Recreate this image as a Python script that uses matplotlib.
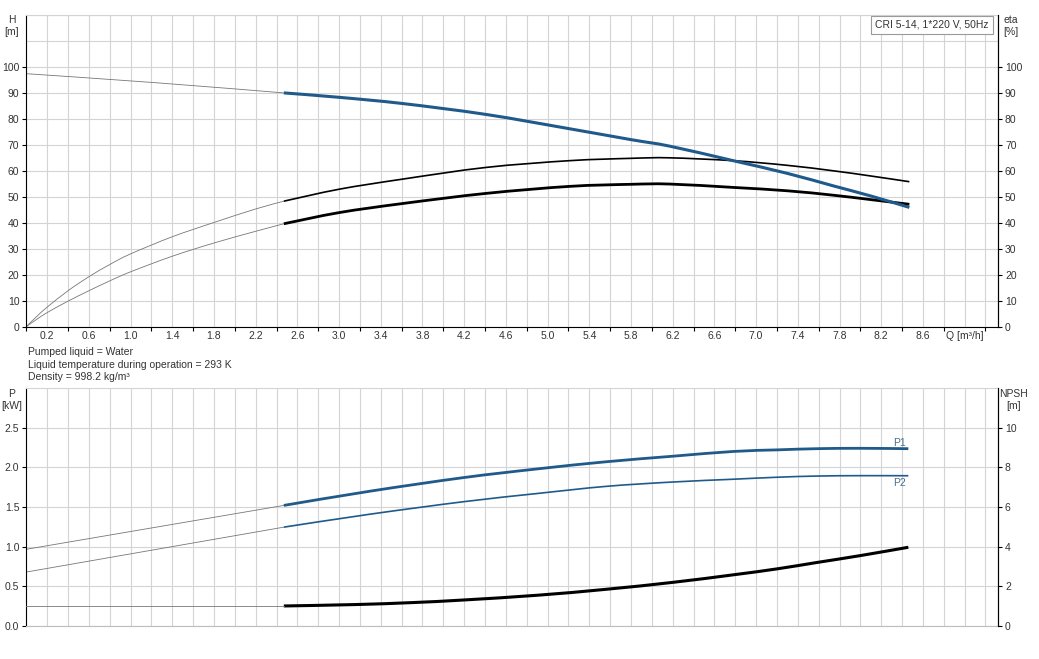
import numpy as np
import matplotlib
matplotlib.use("Agg")
import matplotlib.pyplot as plt
from matplotlib.path import Path
from matplotlib.patches import PathPatch

plt.rcParams['font.family'] = ['Liberation Sans', 'DejaVu Sans']

# ---- data ----
# Head H [m]
h_q_ext = [0.0, 1.25, 2.47]
h_ext = [97.4, 93.9, 90.0]
h_q = [2.47, 3.0, 3.61, 4.41, 5.21, 5.8, 6.17, 6.78, 7.3, 7.74, 8.1, 8.47]
h_val = [90.0, 88.3, 85.9, 81.7, 76.2, 72.0, 69.5, 63.9, 59.0, 54.2, 50.3, 45.9]

# Efficiency (upper, thin) [%]
e1_q_ext = [0.0, 0.1, 0.2, 0.4, 0.6, 0.8, 1.0, 1.4, 1.8, 2.2, 2.47]
e1_ext = [0.0, 3.9, 7.5, 13.8, 19.2, 23.9, 28.0, 34.6, 40.1, 45.3, 48.3]
e1_q = [2.47, 3.0, 3.61, 4.41, 5.21, 5.8, 6.17, 6.78, 7.3, 7.74, 8.1, 8.47]
e1_val = [48.3, 52.9, 56.8, 61.3, 63.9, 64.8, 65.0, 63.9, 62.1, 60.0, 58.0, 55.8]

# Efficiency (lower, thick) [%]
e2_q_ext = [0.0, 0.1, 0.2, 0.4, 0.6, 0.8, 1.0, 1.4, 1.8, 2.2, 2.47]
e2_ext = [0.0, 2.8, 5.4, 9.8, 13.8, 17.6, 21.1, 27.1, 32.2, 36.7, 39.6]
e2_q = [2.47, 3.0, 3.61, 4.41, 5.21, 5.8, 6.17, 6.78, 7.3, 7.74, 8.1, 8.47]
e2_val = [39.6, 43.9, 47.4, 51.3, 54.0, 54.8, 54.9, 53.6, 52.3, 50.6, 48.9, 47.1]

# Power P1 / P2 [kW]
p1_q_ext = [0.0, 2.47]
p1_ext = [0.967, 1.52]
p1_q = [2.47, 3.3, 4.19, 4.9, 5.56, 6.2, 6.78, 7.2, 7.58, 8.0, 8.46]
p1_val = [1.52, 1.70, 1.87, 1.98, 2.07, 2.14, 2.20, 2.22, 2.235, 2.24, 2.235]

p2_q_ext = [0.0, 2.47]
p2_ext = [0.68, 1.246]
p2_q = [2.47, 3.3, 4.19, 4.9, 5.56, 6.2, 6.78, 7.2, 7.58, 8.0, 8.46]
p2_val = [1.246, 1.41, 1.566, 1.67, 1.76, 1.815, 1.85, 1.875, 1.89, 1.895, 1.894]

# NPSH [m]
n_q_ext = [0.0, 2.47]
n_ext = [1.01, 1.01]
n_q = [2.47, 3.15, 3.7, 4.19, 4.9, 5.56, 6.2, 6.78, 7.2, 7.58, 8.0, 8.46]
n_val = [1.01, 1.08, 1.18, 1.31, 1.55, 1.85, 2.2, 2.58, 2.88, 3.2, 3.55, 3.97]

xtick_label_pos = [0.0] + [round(0.2 + 0.4 * i, 1) for i in range(22)] + [9.0]
xtick_labels = ['0'] + [f"{v:.1f}" for v in xtick_label_pos[1:-1]] + ['Q [m\u00b3/h]']

info_lines = ["Pumped liquid = Water",
              "Liquid temperature during operation = 293 K",
              "Density = 998.2 kg/m\u00b3"]
title_box = "CRI 5-14, 1*220 V, 50Hz"

# ---- styling ----
BLUE = '#1f5a8a'
GRID = '#d4d4d4'
TXT = '#333333'
THIN = '#777777'
FS = 7.5
XMAX = 9.32

W, H = 1039, 659
fig = plt.figure(figsize=(W / 100, H / 100), dpi=100)

def fx(px):
    return px / W

def fy(py):
    return 1 - py / H


def smooth_curve(ax, xs, ys, **kw):
    """Draw a smooth curve passing through the given points (Catmull-Rom as Bezier)."""
    p = np.column_stack([xs, ys]).astype(float)
    n = len(p)
    if n < 3:
        ax.plot(xs, ys, **kw)
        return
    verts = [p[0]]
    codes = [Path.MOVETO]
    for i in range(n - 1):
        p0 = p[i - 1] if i > 0 else p[i]
        p1 = p[i]
        p2 = p[i + 1]
        p3 = p[i + 2] if i + 2 < n else p[i + 1]
        c1 = p1 + (p2 - p0) / 6.0
        c2 = p2 - (p3 - p1) / 6.0
        verts += [c1, c2, p2]
        codes += [Path.CURVE4] * 3
    patch = PathPatch(Path(verts, codes), facecolor='none', **kw)
    ax.add_patch(patch)


ax1 = fig.add_axes([fx(26.3), fy(326.6), fx(998) - fx(26.3), fy(15) - fy(326.6)])
ax2 = fig.add_axes([fx(26.3), fy(626), fx(998) - fx(26.3), fy(388) - fy(626)])

major_x = np.round(np.arange(0, 9.3, 0.4), 1)

for ax in (ax1, ax2):
    ax.set_xlim(0, XMAX)
    ax.set_xticks(major_x)
    ax.set_xticks(xtick_label_pos, minor=True)
    ax.grid(True, which='both', axis='both', color=GRID, linewidth=0.8)
    ax.set_axisbelow(True)
    ax.spines['left'].set_color('black')
    ax.spines['top'].set_color(GRID)
    ax.tick_params(axis='both', which='both', labelsize=FS, colors=TXT)
    ax.tick_params(axis='x', which='minor', length=0, pad=3)
    ax.tick_params(axis='y', which='minor', length=0)
    ax.tick_params(axis='y', which='major', length=3, color='black', pad=2)

# top panel x labels
ax1.set_xticklabels([''] * len(major_x))
ax1.set_xticklabels(xtick_labels, minor=True)
ax1.tick_params(axis='x', which='major', length=3, color='black')
ax1.spines['bottom'].set_color('black')
ax1.spines['right'].set_color('black')

# bottom panel: no x labels
ax2.set_xticklabels([''] * len(major_x))
ax2.set_xticklabels([''] * len(xtick_label_pos), minor=True)
ax2.tick_params(axis='x', which='major', length=0)
ax2.spines['bottom'].set_color('#bdbdbd')
ax2.spines['right'].set_color('black')

# y axes top
ax1.set_ylim(0, 120)
ax1.set_yticks(np.arange(0, 101, 10))
ax1.set_yticks([110, 120], minor=True)
ax1r = ax1.twinx()
ax1r.set_ylim(0, 120)
ax1r.set_yticks(np.arange(0, 101, 10))
ax1r.tick_params(axis='y', labelsize=FS, colors=TXT, length=3, pad=2)
ax1r.tick_params(axis='y', color='black')
for s in ('left', 'top', 'bottom'):
    ax1r.spines[s].set_visible(False)
ax1r.spines['right'].set_color('black')

# y axes bottom
ax2.set_ylim(0, 3.0)
ax2.set_yticks(np.arange(0, 2.51, 0.5))
ax2.set_yticklabels([f"{v:.1f}" for v in np.arange(0, 2.51, 0.5)])
ax2r = ax2.twinx()
ax2r.set_ylim(0, 12)
ax2r.set_yticks(np.arange(0, 11, 2))
ax2r.tick_params(axis='y', labelsize=FS, colors=TXT, length=3, pad=2)
ax2r.tick_params(axis='y', color='black')
for s in ('left', 'top', 'bottom'):
    ax2r.spines[s].set_visible(False)
ax2r.spines['right'].set_color('black')

# ---- curves top ----
smooth_curve(ax1, h_q_ext, h_ext, edgecolor=THIN, lw=0.6)
smooth_curve(ax1, e1_q_ext, e1_ext, edgecolor=THIN, lw=0.6)
smooth_curve(ax1, e2_q_ext, e2_ext, edgecolor=THIN, lw=0.6)
smooth_curve(ax1r, e1_q, e1_val, edgecolor='black', lw=1.2, capstyle='butt')
smooth_curve(ax1r, e2_q, e2_val, edgecolor='black', lw=2.0, capstyle='butt')
smooth_curve(ax1r, h_q, h_val, edgecolor=BLUE, lw=2.2, capstyle='butt', zorder=5)

# ---- curves bottom ----
ax2.plot(p1_q_ext, p1_ext, color=THIN, lw=0.6)
ax2.plot(p2_q_ext, p2_ext, color=THIN, lw=0.6)
ax2r.plot(n_q_ext, n_ext, color=THIN, lw=0.6)
smooth_curve(ax2, p1_q, p1_val, edgecolor=BLUE, lw=2.0, capstyle='butt')
smooth_curve(ax2, p2_q, p2_val, edgecolor=BLUE, lw=1.2, capstyle='butt')
smooth_curve(ax2r, n_q, n_val, edgecolor='black', lw=2.2, capstyle='butt')
ax2.text(8.38, 2.31, 'P1', fontsize=FS, color='#4a6f8f', ha='center', va='center')
ax2.text(8.38, 1.80, 'P2', fontsize=FS, color='#4a6f8f', ha='center', va='center')

# ---- texts ----
ax1r.text(0.9905, 0.985, title_box, transform=ax1.transAxes, ha='right', va='top',
          fontsize=FS, color=TXT, zorder=10,
          bbox=dict(boxstyle='square,pad=0.4', facecolor='white', edgecolor='#9a9a9a', linewidth=0.8))

fig.text(fx(12), fy(20), 'H', fontsize=FS, color=TXT, ha='center', va='center')
fig.text(fx(12), fy(32), '[m]', fontsize=FS, color=TXT, ha='center', va='center')
fig.text(fx(1011), fy(20), 'eta', fontsize=FS, color=TXT, ha='center', va='center')
fig.text(fx(1011), fy(32), '[%]', fontsize=FS, color=TXT, ha='center', va='center')
fig.text(fx(12), fy(394), 'P', fontsize=FS, color=TXT, ha='center', va='center')
fig.text(fx(12), fy(406), '[kW]', fontsize=FS, color=TXT, ha='center', va='center')
fig.text(fx(1014), fy(394), 'NPSH', fontsize=FS, color=TXT, ha='center', va='center')
fig.text(fx(1014), fy(406), '[m]', fontsize=FS, color=TXT, ha='center', va='center')

for i, line in enumerate(info_lines):
    fig.text(fx(28.5), fy(352.3 + 12.5 * i), line, fontsize=FS, color=TXT, ha='left', va='center')

fig.savefig('out.png', dpi=100, facecolor='white')
